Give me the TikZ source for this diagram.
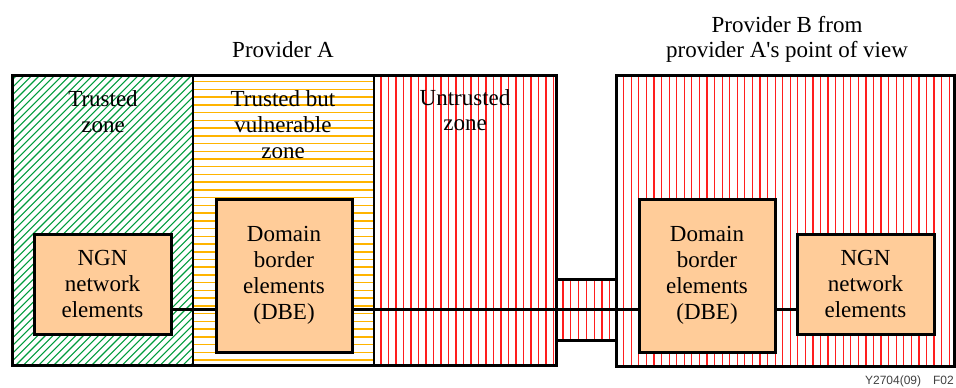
\documentclass[tikz,border=0pt]{standalone}
\usepackage{fontspec}
\setmainfont{Liberation Serif}
\newfontfamily\labelserif{Liberation Serif}
\newfontfamily\labelsans{Liberation Sans}
\begin{document}
\begin{tikzpicture}[x=1pt,y=-1pt,
  txt/.style={font=\labelserif\fontsize{23}{26}\selectfont, align=center, inner sep=0pt},
  elem/.style={draw=black, line width=3pt, fill=boxfill, txt},
  link/.style={draw=black, line width=3pt},
  frame/.style={draw=black, line width=3pt},
  hatchG/.style={draw=hatchgreen, line width=1.1pt},
  hatchO/.style={draw=hatchorange, line width=1.5pt},
  hatchR/.style={draw=hatchred, line width=1.2pt}]
\definecolor{boxfill}{RGB}{255,204,153}
\definecolor{hatchgreen}{RGB}{0,155,60}
\definecolor{hatchorange}{RGB}{255,180,0}
\definecolor{hatchred}{RGB}{255,30,30}
\useasboundingbox (0,0) rectangle (956,388);

% trusted zone: diagonal green hatching
\begin{scope}
  \clip (12,75) rectangle (193,365);
  \foreach \i in {0,...,68}
    \draw[hatchG] ({12-300+\i*7.6},365) -- ++(300,-300);
\end{scope}
% trusted but vulnerable zone: horizontal orange hatching
\begin{scope}
  \clip (193,75) rectangle (374,365);
  \foreach \i in {0,...,38}
    \draw[hatchO] (193,{81.7+\i*7.73}) -- (374,{81.7+\i*7.73});
\end{scope}
% untrusted zone, link strip and provider B: vertical red hatching
\begin{scope}
  \clip (374,75) rectangle (556,365);
  \foreach \i in {0,...,25}
    \draw[hatchR] ({381+\i*7.5},75) -- ({381+\i*7.5},365);
\end{scope}
\begin{scope}
  \clip (556,279) rectangle (617,340);
  \foreach \i in {0,...,8}
    \draw[hatchR] ({563+\i*7.8},279) -- ({563+\i*7.8},340);
\end{scope}
\begin{scope}
  \clip (616,75) rectangle (954,366);
  \foreach \i in {0,...,46}
    \draw[hatchR] ({623.7+\i*7.57},75) -- ({623.7+\i*7.57},366);
\end{scope}

% zone borders
\draw[draw=black, line width=2pt] (193,75) -- (193,365);
\draw[draw=black, line width=2.5pt] (374,75) -- (374,365);
\draw[frame] (12,75) rectangle (556,365);
\draw[frame] (616,75) rectangle (954,366);
\draw[frame] (556,279) -- (616,279);
\draw[frame] (556,340) -- (616,340);

% network elements
\node[elem, minimum width=137pt, minimum height=100pt] (ngnA) at (102.5,284) {NGN\\network\\elements};
\node[elem, minimum width=136pt, minimum height=153pt] (dbeA) at (284,275.5) {Domain\\border\\elements\\(DBE)};
\node[elem, minimum width=136pt, minimum height=153pt] (dbeB) at (707,275.5) {Domain\\border\\elements\\(DBE)};
\node[elem, minimum width=137pt, minimum height=100pt] (ngnB) at (865.5,284) {NGN\\network\\elements};

% connectors
\coordinate (lvl) at (0,309);
\draw[link] (ngnA.east |- lvl) -- (dbeA.west |- lvl);
\draw[link] (dbeA.east |- lvl) -- (dbeB.west |- lvl);
\draw[link] (dbeB.east |- lvl) -- (ngnB.west |- lvl);

% labels
\node[txt, anchor=base] (provA) at (283,57) {Provider A};
\node[txt, anchor=base] (provB1) at (787,32) {Provider B from};
\node[txt, anchor=base] (provB2) at (787,57) {provider A's point of view};
\node[txt, anchor=base] (trusted) at (103,106) {Trusted};
\node[txt, anchor=base] (trusted2) at (103,132) {zone};
\node[txt, anchor=base] (vuln1) at (283,106) {Trusted but};
\node[txt, anchor=base] (vuln2) at (283,132) {vulnerable};
\node[txt, anchor=base] (vuln3) at (283,158) {zone};
\node[txt, anchor=base] (untr1) at (465,105) {Untrusted};
\node[txt, anchor=base] (untr2) at (465,130) {zone};
\node[anchor=base east, inner sep=0pt, text=black!75, font=\labelsans\fontsize{12}{14}\selectfont] (code) at (954,384) {Y2704(09)\quad F02};
\end{tikzpicture}
\end{document}
